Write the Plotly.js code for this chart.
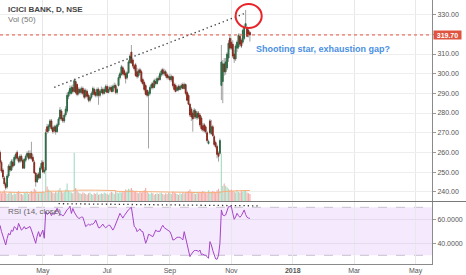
<!DOCTYPE html>
<html><head><meta charset="utf-8">
<script src="https://cdn.plot.ly/plotly-3.0.1.min.js"></script>
<style>html,body{margin:0;padding:0;background:#fff;}#chart{width:466px;height:275px;}</style>
</head><body><div id="chart"></div>
<script>
// ---- data (daily, first trading day 2017-03-17) ----
const firstDay = '2017-03-17';
const openP = [
262,260,255,251,247,244,242.5,248,253,251,
255,253.5,257,260,257,255.5,258,256,252,256,
258,259.5,257,259.5,257.5,255,249.5,245,249,247,
252,255,250,251,273,271,273,276,272.5,271,
273,270.5,274,277,281,277.5,276,279,281,288.5,
290,290,293,291,296,294.5,290,292,290.5,292.5,
291.5,288.5,291,289,286.5,288,289.5,292,290.5,289,
292,289,290.5,292,290,291,293.5,290.5,292,293,
291,293,294,290.5,294,298,299.5,303,301.5,300,
298,300.5,305.5,311,307,304,304.5,301,299,302,
301,297,295.5,294,291.5,289,290,293,295,293,
296,295,297.5,297,299.5,302,300,301,299.5,298,
298.5,297,298.5,294.5,294,291.5,293.5,292,293,294.5,
292.5,294.5,290.5,289,284.5,282,280,278,281,277.5,
280,279,277.5,273.5,274,273,270,264.5,276,269.5,
273,268,265,263,259.5,259.5,294,296,305,301,
303,308,318,316,315,310,307.5,313,313.5,319,
317,316,318,324,323,322,321];
const highP = [
263,261,256,252,248,245,249,254,255,256.5,
256.5,258.5,260,261,258,259,259,257,257,259,
260.5,261,261,265.4,259,256,250,249.5,250,253,
256,256,252.5,272,274.5,274.5,277,277,273.5,274,
274,275,278,283,282,279,280,283.5,290.5,291.5,
294,294,294.5,297.5,297,295,293,293,293.5,293.5,
292.5,292.5,292,290,289,291,293.5,293,292,293,
293,292,293.5,293,293,294.5,294.5,293.5,294,294,
294.5,295.5,295,293,299.5,301,304.5,304,302.5,301,
301.5,307,310,314.6,308,305,305.5,303,302.5,303,
302,298,296.5,295,292,291.5,294,295.5,296,297.5,
297.5,298.5,299,301,302.5,303,302.5,302,300.5,299.5,
300,299.5,299,295.5,295,294,294.5,294.5,295,295.5,
295.5,295,291.5,290,285,283,281,282.5,282,281,
281,280,278.5,275,275,274,271,266.5,277,276.5,
274,269,266,264,260.5,267,314.6,307,308,308,
311,317,320,318,317,312,315,317,320.5,320.5,
318,323,325,332.4,324,323,321.5];
const lowP = [
258.5,254,249.5,246.5,243,241,241.5,247,250,250.5,
252,253,256,256,254.5,254.5,255,251.5,251.5,255,
257,256,256.5,256,255,249,242.6,244.5,246,246.5,
251,249.5,249,250.5,269.5,270,272,271,269.5,270,
269,270,273,276,276,275,275,278,280,287,
289,289.5,290,290.5,289.5,288.5,289,289.5,289.5,289,
287,287.5,287.5,285.5,285.5,287,289,288.5,288,288,
284.2,288,290,289,289.5,290.5,290,290,291,290.5,
290.5,292,289.5,289.5,293.5,297,299,299,298.5,295,
297,300,305,305,303,301.5,298.5,297.5,298,299.5,
295,294,291,289,288,262,289,292,292,292.5,
294,294.5,296,296.5,298.5,299,299,298,297,297,
296,296,293,291,290.5,291,291,291.5,292,292,
292,289,286,284,278,276,270.5,277,277,276.5,
277,273,271,270.5,270,269.5,265,264,269,269,
268,263,262,257,255.3,259,286.6,285,299,299.5,
302,306,312,312,308,305.5,306.5,311,312.5,314,
313,315,317,323.5,318.5,318.5,316.3];
const closeP = [
259,255,250.5,247.5,244,242,248,253,251,255.5,
253,257.5,259,257,255.5,258,256,252,256.5,258,
259.5,257,259.5,257,255.5,249.5,245,248.5,247,252,
254.5,250,251,270,270.5,273.5,276,272,270.5,273,
270.5,274,277,281.5,277,276,279,282,289,290.5,
292.5,293,291,296.5,290.5,289.5,292,290.5,292.5,290,
288,291.5,288.5,286.5,288,290,292.5,289.5,289,292,
289,291,292,290,292,293.5,290.5,292,293,291,
293.5,294,290.5,292,298,300,303.5,300,299.5,297.5,
300.5,306,309,305.5,304,302.5,299,298.5,301.5,300.5,
296,295,292,289.5,289,290.5,293,294.5,293,296.5,
295,297.5,297,300,301.5,300,301,299,298,298.5,
297,298.5,294,292,291,293,292,293.5,294,292.5,
294.5,290,286.5,284.5,279,278,277,281.5,278,280,
278,274,272,271.5,271,270.5,266,265.5,270,273,
268.5,264,263,259,258,266,306,305,301,306,
310,315.5,313,313,309,307.5,314,316,319.5,315,
314,322,323.5,325.5,319,320,319.7];
const volume = [
12,14,11,13,15,12,10,11,13,12,
9,11,10,12,14,11,10,9,12,11,
13,10,12,14,13,17,15,12,11,13,
12,14,12,64,20,16,14,13,12,11,
13,12,15,18,14,12,13,16,24,15,
13,12,11,65,18,14,12,11,10,12,
11,10,9,11,12,10,9,11,10,12,
9,10,11,10,12,11,10,9,11,13,
12,10,14,12,11,13,12,14,13,16,
15,17,16,18,15,13,14,12,11,13,
12,14,15,18,13,11,10,12,11,9,
10,11,10,11,12,10,9,11,10,12,
11,10,13,12,11,10,9,11,10,12,
11,12,13,14,16,13,12,11,10,12,
11,13,12,14,13,12,11,15,13,12,
14,13,12,15,17,14,64,21,24,21,
19,17,15,16,14,13,12,15,13,12,
14,13,15,14,12,11,10];
const rsi = [
57,55,50,46,42,38.6,44,48.3,47,51,
50,53.9,53,51,56.6,54,51,52,53.9,52,
52.5,53,54,51,47,43,40,46,49.7,45.5,
49,51,44.2,66.4,64,65,66,63,65,64,
66,69.2,66,63.6,64,62.7,64,66.4,68,69,
71,64.9,69,66,63.6,62,61,60.8,62,61.7,
58,53.9,55,55.9,55,56,55.9,57,59.4,56,
53,53,55,56,54,53,54,55,55,53,
51,53,56,60,63,65,63,61,63,65,
66,68,69,70,62,54,53,49.7,51,52,
50,49.7,45,40,43,47.5,47,46,45.5,48,
51,50,49.7,50,53,55,53,52,51,50,
49.7,47,42.8,43,44,45,45,45,44,42.8,
49.7,45,40,35,28.9,31,33,34,34,34,
33,34.4,30.6,31,30.2,30,29,27.5,41.4,38.6,
34,30,27,26.7,30,40,67.8,63.6,63,63.6,
67,70.5,70.5,70.5,65,60,62,65,63,61.7,
63,65,67.8,64,61.7,61,60.8];
// x-axis labels
const tickDates = ['2017-05-01','2017-07-03','2017-09-01','2017-11-01','2018-01-01','2018-03-01','2018-05-01'];
const tickText = ['May','Jul','Sep','Nov','<b>2018</b>','Mar','May'];
// drawings
const trendDates = ['2017-05-11','2017-11-14 14:00'];
const trendPrices = [293.1, 330.7];
const rsiLineDates = ['2017-05-16','2017-11-27 16:00'];
const rsiLineValues = [73, 71.2];
const noteText = 'Shooting star, exhaustion gap?';

// ---- build ----
function tradingDays(start, n){
  const out=[]; const d=new Date(start+'T00:00:00Z');
  while(out.length<n){const wd=d.getUTCDay(); if(wd!==0&&wd!==6) out.push(d.toISOString().slice(0,10)); d.setUTCDate(d.getUTCDate()+1);}
  return out;
}
const dates = tradingDays(firstDay, closeP.length);
const bodyHi = openP.map((o,i)=>Math.max(o,closeP[i]));
const bodyLo = openP.map((o,i)=>Math.min(o,closeP[i]));
const volColors = openP.map((o,i)=> closeP[i]>=o ? '#a8dcc3' : '#f4aaa8');
const volMA = volume.map((v,i)=>{const s=Math.max(0,i-49);let t=0;for(let k=s;k<=i;k++)t+=volume[k];return t/(i-s+1);});
const last = closeP[closeP.length-1];
const FONT = 'Liberation Sans, Arial, sans-serif';

const traces = [
  {type:'bar', x:dates, y:volume, xaxis:'x', yaxis:'y', marker:{color:volColors, line:{width:0}}, width:0.8*86400000, hoverinfo:'skip'},
  {type:'scatter', mode:'lines', x:dates, y:volMA, xaxis:'x', yaxis:'y', line:{color:'#f7b07c', width:1}, hoverinfo:'skip'},
  {type:'candlestick', x:dates, open:openP, high:highP, low:lowP, close:closeP, xaxis:'x', yaxis:'y3',
    increasing:{line:{color:'#a3a3a3', width:1}, fillcolor:'#a3a3a3'},
    decreasing:{line:{color:'#a3a3a3', width:1}, fillcolor:'#a3a3a3'}, hoverinfo:'skip'},
  {type:'candlestick', x:dates, open:openP, high:bodyHi, low:bodyLo, close:closeP, xaxis:'x', yaxis:'y3',
    increasing:{line:{color:'#2b6a44', width:1}, fillcolor:'#4b9a6b'},
    decreasing:{line:{color:'#8a291e', width:1}, fillcolor:'#c0392b'}, hoverinfo:'skip'},
  {type:'scatter', mode:'lines', x:trendDates, y:trendPrices, xaxis:'x', yaxis:'y3', line:{color:'#333', width:1.3, dash:'1.3px,3px'}, hoverinfo:'skip'},
  {type:'scatter', mode:'lines', x:dates, y:rsi, xaxis:'x', yaxis:'y2', line:{color:'#a544c8', width:1}, hoverinfo:'skip'},
  {type:'scatter', mode:'lines', x:rsiLineDates, y:rsiLineValues, xaxis:'x', yaxis:'y2', line:{color:'#333', width:1.3, dash:'1.3px,3px'}, hoverinfo:'skip'}
];

const sepY = (264-201.5)/264;
const layout = {
  width:466, height:275, margin:{l:0,r:34,t:0,b:11,pad:0},
  paper_bgcolor:'#fff', plot_bgcolor:'rgba(0,0,0,0)', showlegend:false, hovermode:false,
  font:{family:FONT, size:7, color:'#555'},
  xaxis:{type:'date', anchor:'y2', domain:[0,1], range:['2017-03-20','2018-05-16 12:00'],
    rangebreaks:[{bounds:['sat','mon']}], tickvals:tickDates, ticktext:tickText, ticks:'',
    showgrid:true, gridcolor:'#e8e8e8', gridwidth:1, showline:true, linecolor:'#8a8a8a', linewidth:1,
    tickfont:{size:7, color:'#555'}, zeroline:false, rangeslider:{visible:false}, fixedrange:true},
  yaxis:{domain:[sepY,1], range:[0,268], visible:false, showgrid:false, zeroline:false, fixedrange:true},
  yaxis3:{overlaying:'y', anchor:'x', side:'right', range:[235.03,337.47], tick0:240, dtick:10, tickformat:'.2f',
    showgrid:true, gridcolor:'#eeeeee', ticks:'outside', ticklen:3, tickcolor:'#999', showline:true, linecolor:'#8a8a8a',
    tickfont:{size:7, color:'#555'}, zeroline:false, fixedrange:true},
  yaxis2:{domain:[0,(264-202)/264], anchor:'x', side:'right', range:[22.75,74.42], tickvals:[40,60], tickformat:'.4f',
    showgrid:true, gridcolor:'#e4dcec', ticks:'outside', ticklen:3, tickcolor:'#999', showline:true, linecolor:'#8a8a8a',
    tickfont:{size:7, color:'#555'}, zeroline:false, fixedrange:true},
  shapes:[
    {type:'rect', xref:'x domain', x0:0, x1:1, yref:'y2', y0:30, y1:70, fillcolor:'rgba(150,40,240,0.1)', line:{width:0}, layer:'below'},
    {type:'line', xref:'x domain', x0:0, x1:1, yref:'y2', y0:70, y1:70, line:{color:'#c8c0d0', width:1, dash:'dash'}, layer:'below'},
    {type:'line', xref:'x domain', x0:0, x1:1, yref:'y2', y0:30, y1:30, line:{color:'#c8c0d0', width:1, dash:'dash'}, layer:'below'},
    {type:'line', xref:'x domain', x0:0, x1:1, yref:'y3', y0:last, y1:last, line:{color:'#e0533f', width:1, dash:'dot'}},
    {type:'circle', xref:'x', yref:'y3', x0:'2017-11-06', x1:'2017-11-30 06:00', y0:323.2, y1:335.4, line:{color:'#e8242a', width:2}},
    {type:'line', xref:'paper', yref:'paper', x0:0, x1:466/432, y0:sepY, y1:sepY, line:{color:'#7a7a7a', width:1}}
  ],
  annotations:[
    {xref:'paper', yref:'paper', x:5.5/432, y:1-9.3/264, xanchor:'left', yanchor:'middle', showarrow:false,
      text:'ICICI BANK, D, NSE', font:{size:8, color:'#454545', weight:'bold', family:FONT}},
    {xref:'paper', yref:'paper', x:5.5/432, y:1-19.5/264, xanchor:'left', yanchor:'middle', showarrow:false,
      text:'Vol (50)', font:{size:8, color:'#777', family:FONT}},
    {xref:'paper', yref:'paper', x:5.5/432, y:(264-211)/264, xanchor:'left', yanchor:'middle', showarrow:false,
      text:'RSI (14, close)', font:{size:8, color:'#666', family:FONT}},
    {xref:'paper', yref:'y3', x:432.7/432, y:last, xanchor:'left', yanchor:'middle', showarrow:false,
      text:last.toFixed(2), bgcolor:'#df5440', width:27, height:8, borderpad:0, align:'center',
      font:{size:7, color:'#fff', weight:'bold', family:FONT}},
    {xref:'x', yref:'y3', x:'2017-11-22 17:00', y:312.6, xanchor:'left', yanchor:'middle', showarrow:false,
      text:noteText, font:{size:9, color:'#4a8fe3', weight:'bold', family:FONT}}
  ]
};
Plotly.newPlot('chart', traces, layout, {staticPlot:true, displayModeBar:false});
</script></body></html>
